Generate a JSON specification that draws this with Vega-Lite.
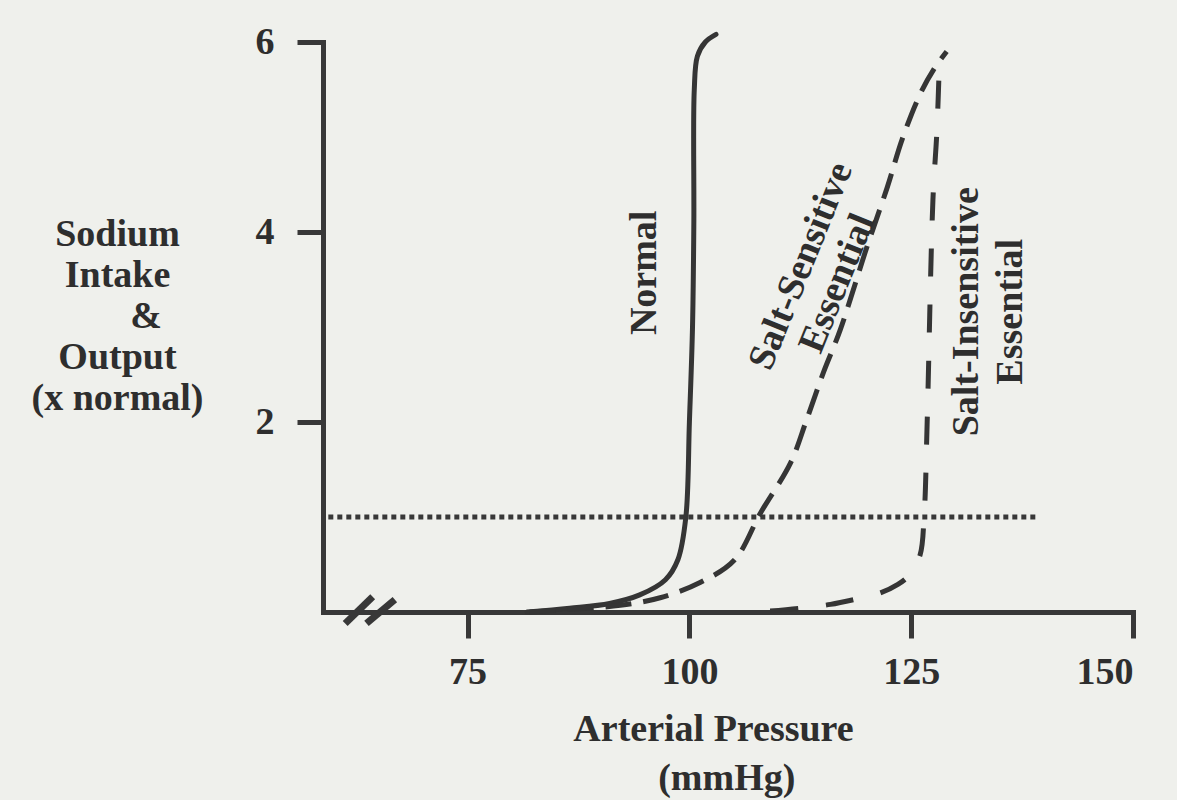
{
  "$schema": "https://vega.github.io/schema/vega-lite/v6.json",
  "width": 810,
  "height": 570,
  "autosize": {"type": "none"},
  "padding": {"left": 323, "top": 42, "right": 44, "bottom": 188},
  "background": "#eff0ec",
  "config": {
    "view": {"stroke": null},
    "font": "Liberation Serif",
    "axis": {
      "grid": false,
      "domainColor": "#383838",
      "domainWidth": 5,
      "domainCap": "square",
      "tickColor": "#383838",
      "tickWidth": 5,
      "tickSize": 26,
      "tickCap": "butt",
      "labelFont": "Liberation Serif",
      "labelFontWeight": "bold",
      "labelFontSize": 38,
      "labelColor": "#2e2e2e",
      "titleFont": "Liberation Serif",
      "titleFontWeight": "bold",
      "titleFontSize": 38,
      "titleColor": "#2e2e2e"
    }
  },
  "datasets": {
    "curves": [
      {"series": "Normal", "i": 1, "pressure": 81.7, "sodium": 0.0},
      {"series": "Normal", "i": 2, "pressure": 86.5, "sodium": 0.04},
      {"series": "Normal", "i": 3, "pressure": 91.0, "sodium": 0.09},
      {"series": "Normal", "i": 4, "pressure": 94.4, "sodium": 0.18},
      {"series": "Normal", "i": 5, "pressure": 97.3, "sodium": 0.34},
      {"series": "Normal", "i": 6, "pressure": 98.7, "sodium": 0.55},
      {"series": "Normal", "i": 7, "pressure": 99.6, "sodium": 1.0},
      {"series": "Normal", "i": 8, "pressure": 100.0, "sodium": 2.0},
      {"series": "Normal", "i": 9, "pressure": 100.35, "sodium": 3.0},
      {"series": "Normal", "i": 10, "pressure": 100.5, "sodium": 4.1},
      {"series": "Normal", "i": 11, "pressure": 100.55, "sodium": 5.5},
      {"series": "Normal", "i": 12, "pressure": 100.9, "sodium": 5.85},
      {"series": "Normal", "i": 13, "pressure": 101.8, "sodium": 6.0},
      {"series": "Normal", "i": 14, "pressure": 103.0, "sodium": 6.08},
      {"series": "Salt-Sensitive", "i": 1, "pressure": 82.0, "sodium": 0.0},
      {"series": "Salt-Sensitive", "i": 2, "pressure": 85.4, "sodium": 0.02},
      {"series": "Salt-Sensitive", "i": 3, "pressure": 92.2, "sodium": 0.07},
      {"series": "Salt-Sensitive", "i": 4, "pressure": 96.7, "sodium": 0.15},
      {"series": "Salt-Sensitive", "i": 5, "pressure": 101.2, "sodium": 0.31},
      {"series": "Salt-Sensitive", "i": 6, "pressure": 105.1, "sodium": 0.55},
      {"series": "Salt-Sensitive", "i": 7, "pressure": 108.0, "sodium": 1.04},
      {"series": "Salt-Sensitive", "i": 8, "pressure": 111.4, "sodium": 1.57},
      {"series": "Salt-Sensitive", "i": 9, "pressure": 113.2, "sodium": 2.02},
      {"series": "Salt-Sensitive", "i": 10, "pressure": 115.1, "sodium": 2.52},
      {"series": "Salt-Sensitive", "i": 11, "pressure": 117.0, "sodium": 2.97},
      {"series": "Salt-Sensitive", "i": 12, "pressure": 120.0, "sodium": 3.84},
      {"series": "Salt-Sensitive", "i": 13, "pressure": 122.3, "sodium": 4.47},
      {"series": "Salt-Sensitive", "i": 14, "pressure": 124.0, "sodium": 4.98},
      {"series": "Salt-Sensitive", "i": 15, "pressure": 126.0, "sodium": 5.45},
      {"series": "Salt-Sensitive", "i": 16, "pressure": 127.6, "sodium": 5.72},
      {"series": "Salt-Sensitive", "i": 17, "pressure": 129.0, "sodium": 5.9},
      {"series": "Salt-Insensitive", "i": 1, "pressure": 109.1, "sodium": 0.01},
      {"series": "Salt-Insensitive", "i": 2, "pressure": 112.5, "sodium": 0.04},
      {"series": "Salt-Insensitive", "i": 3, "pressure": 115.9, "sodium": 0.08},
      {"series": "Salt-Insensitive", "i": 4, "pressure": 118.5, "sodium": 0.13},
      {"series": "Salt-Insensitive", "i": 5, "pressure": 121.5, "sodium": 0.2},
      {"series": "Salt-Insensitive", "i": 6, "pressure": 123.5, "sodium": 0.29},
      {"series": "Salt-Insensitive", "i": 7, "pressure": 124.8, "sodium": 0.39},
      {"series": "Salt-Insensitive", "i": 8, "pressure": 126.0, "sodium": 0.6},
      {"series": "Salt-Insensitive", "i": 9, "pressure": 126.45, "sodium": 1.0},
      {"series": "Salt-Insensitive", "i": 10, "pressure": 126.8, "sodium": 2.0},
      {"series": "Salt-Insensitive", "i": 11, "pressure": 127.45, "sodium": 4.34},
      {"series": "Salt-Insensitive", "i": 12, "pressure": 127.9, "sodium": 5.07},
      {"series": "Salt-Insensitive", "i": 13, "pressure": 128.2, "sodium": 5.86}
    ],
    "setpoint": [
      {"pressure": 59.3, "sodium": 1.0},
      {"pressure": 139.0, "sodium": 1.0}
    ],
    "axisbreak": [
      {"x1": 61.2, "y1": -0.12, "x2": 64.3, "y2": 0.16},
      {"x1": 63.6, "y1": -0.12, "x2": 66.8, "y2": 0.13}
    ],
    "labels": [
      {"text": "Normal", "group": "vertical", "pressure": 95.0, "sodium": 3.57},
      {"text": "Salt-Insensitive", "group": "vertical", "pressure": 131.3, "sodium": 3.16},
      {"text": "Essential", "group": "vertical2", "pressure": 136.2, "sodium": 3.16},
      {"text": "Salt-Sensitive", "group": "slanted", "pressure": 112.6, "sodium": 3.64},
      {"text": "Essential", "group": "slanted", "pressure": 116.7, "sodium": 3.46}
    ]
  },
  "layer": [
    {
      "data": {"name": "setpoint"},
      "mark": {"type": "line", "color": "#383838", "strokeWidth": 5, "strokeDash": [5, 4], "strokeCap": "butt"},
      "encoding": {
        "x": {
          "field": "pressure", "type": "quantitative",
          "scale": {"domain": [58.7, 150], "nice": false, "zero": false},
          "axis": {
            "values": [75, 100, 125, 150],
            "format": "d",
            "labelPadding": 15,
            "title": ["Arterial Pressure", "\u200b\u2002\u2009(mmHg)"],
            "titleX": 390,
            "titleY": 128,
            "titleAlign": "center",
            "titleBaseline": "alphabetic",
            "titleLineHeight": 49
          }
        },
        "y": {
          "field": "sodium", "type": "quantitative",
          "scale": {"domain": [0, 6], "nice": false},
          "axis": {
            "values": [2, 4, 6],
            "format": "d",
            "labelPadding": 23,
            "title": ["Sodium", "Intake", "\u200b\u2003\u2002&", "Output", "(x normal)"],
            "titleAngle": 0,
            "titleX": -206,
            "titleY": 203,
            "titleAlign": "center",
            "titleBaseline": "alphabetic",
            "titleLineHeight": 41
          }
        }
      }
    },
    {
      "data": {"name": "curves"},
      "transform": [{"filter": "datum.series === 'Normal'"}],
      "mark": {"type": "line", "color": "#353535", "strokeWidth": 5, "interpolate": "catmull-rom", "strokeCap": "round"},
      "encoding": {
        "x": {"field": "pressure", "type": "quantitative"},
        "y": {"field": "sodium", "type": "quantitative"},
        "order": {"field": "i", "type": "quantitative"}
      }
    },
    {
      "data": {"name": "curves"},
      "transform": [{"filter": "datum.series === 'Salt-Sensitive'"}],
      "mark": {"type": "line", "color": "#353535", "strokeWidth": 5, "interpolate": "catmull-rom", "strokeDash": [26, 12], "strokeCap": "butt"},
      "encoding": {
        "x": {"field": "pressure", "type": "quantitative"},
        "y": {"field": "sodium", "type": "quantitative"},
        "order": {"field": "i", "type": "quantitative"}
      }
    },
    {
      "data": {"name": "curves"},
      "transform": [{"filter": "datum.series === 'Salt-Insensitive'"}],
      "mark": {"type": "line", "color": "#353535", "strokeWidth": 5, "interpolate": "catmull-rom", "strokeDash": [28, 28], "strokeCap": "butt"},
      "encoding": {
        "x": {"field": "pressure", "type": "quantitative"},
        "y": {"field": "sodium", "type": "quantitative"},
        "order": {"field": "i", "type": "quantitative"}
      }
    },
    {
      "data": {"name": "axisbreak"},
      "mark": {"type": "rule", "color": "#383838", "strokeWidth": 7, "strokeCap": "butt"},
      "encoding": {
        "x": {"field": "x1", "type": "quantitative"},
        "y": {"field": "y1", "type": "quantitative"},
        "x2": {"field": "x2"},
        "y2": {"field": "y2"}
      }
    },
    {
      "data": {"name": "labels"},
      "transform": [{"filter": "datum.group !== 'slanted'"}],
      "mark": {"type": "text", "angle": -90, "font": "Liberation Serif", "fontWeight": "bold", "fontSize": 38, "color": "#2e2e2e", "align": "center", "baseline": "middle"},
      "encoding": {
        "x": {"field": "pressure", "type": "quantitative"},
        "y": {"field": "sodium", "type": "quantitative"},
        "text": {"field": "text"}
      }
    },
    {
      "data": {"name": "labels"},
      "transform": [{"filter": "datum.group === 'slanted'"}],
      "mark": {"type": "text", "angle": -68, "font": "Liberation Serif", "fontWeight": "bold", "fontSize": 38, "color": "#2e2e2e", "align": "center", "baseline": "middle"},
      "encoding": {
        "x": {"field": "pressure", "type": "quantitative"},
        "y": {"field": "sodium", "type": "quantitative"},
        "text": {"field": "text"}
      }
    }
  ]
}
